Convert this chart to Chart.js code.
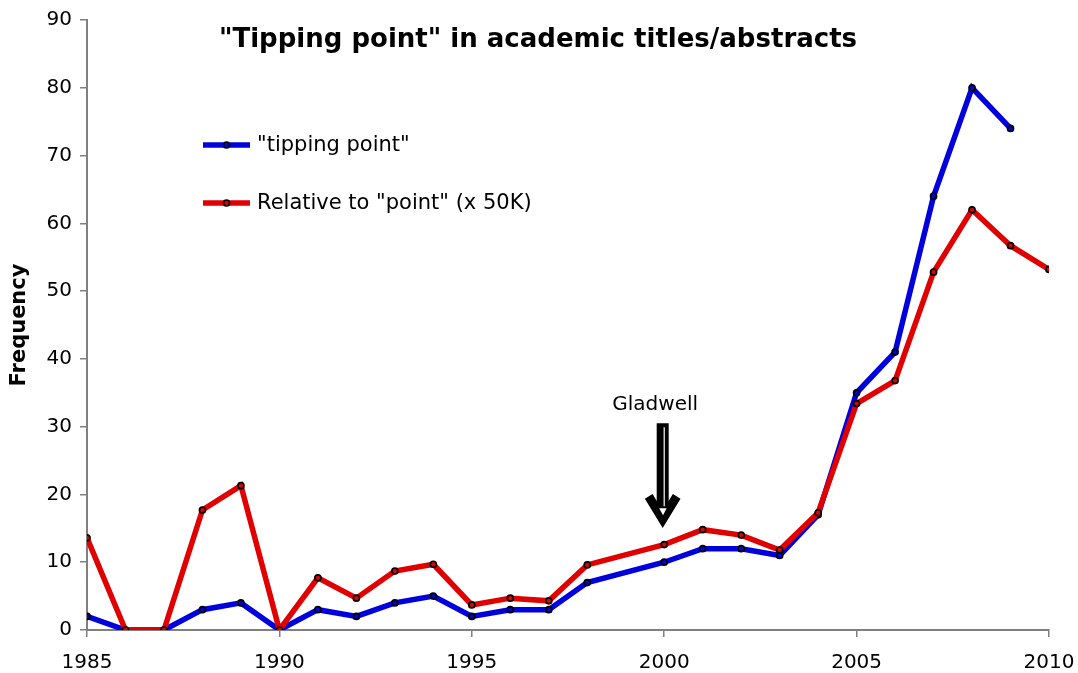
<!DOCTYPE html>
<html>
<head>
<meta charset="utf-8">
<title>Tipping point frequency</title>
<script src="https://cdn.jsdelivr.net/npm/chart.js@4/dist/chart.umd.min.js"></script>
<style>
  html, body { margin: 0; padding: 0; background: #ffffff; }
  #wrap { width: 1078px; height: 673px; }
</style>
</head>
<body>
<div id="wrap"><canvas id="c" width="1078" height="673"></canvas></div>
<script>
// Publication years (no 1999 observation)
const years = [1985, 1986, 1987, 1988, 1989, 1990, 1991, 1992, 1993, 1994, 1995,
               1996, 1997, 1998, 2000, 2001, 2002, 2003, 2004, 2005, 2006, 2007,
               2008, 2009, 2010];

// Raw count of "tipping point" (no 2010 value yet)
const tippingPoint = [2, 0, 0, 3, 4, 0, 3, 2, 4, 5, 2,
                      3, 3, 7, 10, 12, 12, 11, 17, 35, 41, 64,
                      80, 74, null];

// Frequency relative to "point", scaled by 50K
const relativeToPoint = [13.6, 0, 0, 17.7, 21.3, 0, 7.7, 4.7, 8.7, 9.7, 3.7,
                         4.7, 4.3, 9.6, 12.6, 14.8, 14.0, 11.8, 17.3, 33.4, 36.8, 52.8,
                         62.0, 56.7, 53.2];

const xTicks = [1985, 1990, 1995, 2000, 2005, 2010];
const yTicks = [0, 10, 20, 30, 40, 50, 60, 70, 80, 90];

const seriesNames = ['"tipping point"', 'Relative to "point" (x 50K)'];
const chartTitle = '"Tipping point" in academic titles/abstracts';
const yTitle = 'Frequency';
const noteLabel = 'Gladwell';
const noteYear = 2000;

const FONT = "'DejaVu Sans', Verdana, sans-serif";
const AXIS_GREY = '#808080';
const BLUE = '#0000dc';
const RED = '#e00000';

function toPoints(values) {
  const pts = [];
  years.forEach((yr, i) => {
    if (values[i] !== null && values[i] !== undefined) pts.push({ x: yr, y: values[i] });
  });
  return pts;
}

// Title, inline legend and the "Gladwell" arrow
const overlay = {
  id: 'overlay',
  afterDatasetsDraw(chart) {
    const ctx = chart.ctx;
    const xs = chart.scales.x;
    const ys = chart.scales.y;
    ctx.save();

    // title
    ctx.fillStyle = '#000';
    ctx.font = 'bold 26px ' + FONT;
    ctx.textAlign = 'center';
    ctx.textBaseline = 'middle';
    ctx.fillText(chartTitle, 538, 40);

    // legend
    ctx.font = '21px ' + FONT;
    ctx.textAlign = 'left';
    const rows = [145, 203];
    chart.data.datasets.forEach((ds, i) => {
      const y = rows[i];
      ctx.strokeStyle = ds.borderColor;
      ctx.lineWidth = 5.5;
      ctx.beginPath();
      ctx.moveTo(203, y);
      ctx.lineTo(250, y);
      ctx.stroke();
      ctx.beginPath();
      ctx.arc(226.5, y, 3, 0, Math.PI * 2);
      ctx.fillStyle = ds.backgroundColor;
      ctx.fill();
      ctx.lineWidth = 1.7;
      ctx.strokeStyle = '#000';
      ctx.stroke();
      ctx.fillStyle = '#000';
      ctx.fillText(ds.label, 257, y + 1);
    });

    // annotation arrow: thick shaft plus a heavy chevron head
    const cx = xs.getPixelForValue(noteYear) - 1.5;
    const top = ys.getPixelForValue(30.5);
    const tip = ys.getPixelForValue(15.3);
    ctx.strokeStyle = '#000';
    ctx.lineCap = 'butt';
    ctx.lineJoin = 'miter';
    ctx.lineWidth = 12;
    ctx.beginPath();
    ctx.moveTo(cx, top);
    ctx.lineTo(cx, tip - 10);
    ctx.stroke();
    ctx.lineWidth = 9;
    ctx.beginPath();
    ctx.moveTo(cx - 14, tip - 30);
    ctx.lineTo(cx, tip - 7);
    ctx.lineTo(cx + 14, tip - 30);
    ctx.stroke();
    ctx.strokeStyle = '#ffffff';
    ctx.lineWidth = 1.2;
    ctx.beginPath();
    ctx.moveTo(cx + 1.5, top + 4);
    ctx.lineTo(cx + 1.5, tip - 20);
    ctx.stroke();
    ctx.fillStyle = '#ffffff';
    ctx.beginPath();
    ctx.moveTo(cx - 3.5, tip - 18);
    ctx.lineTo(cx + 4, tip - 18);
    ctx.lineTo(cx + 0.3, tip - 11);
    ctx.closePath();
    ctx.fill();

    ctx.fillStyle = '#000';
    ctx.font = '20px ' + FONT;
    ctx.textAlign = 'center';
    ctx.textBaseline = 'middle';
    ctx.fillText(noteLabel, cx - 7.5, ys.getPixelForValue(33.2));

    ctx.restore();
  }
};

new Chart(document.getElementById('c'), {
  type: 'line',
  data: {
    datasets: [
      {
        label: seriesNames[0],
        data: toPoints(tippingPoint),
        borderColor: BLUE,
        backgroundColor: BLUE,
        borderWidth: 5.5,
        pointRadius: 3,
        pointBorderWidth: 1.7,
        pointBorderColor: '#000',
        pointBackgroundColor: BLUE,
        tension: 0,
        order: 2
      },
      {
        label: seriesNames[1],
        data: toPoints(relativeToPoint),
        borderColor: RED,
        backgroundColor: RED,
        borderWidth: 5.5,
        pointRadius: 3,
        pointBorderWidth: 1.7,
        pointBorderColor: '#000',
        pointBackgroundColor: RED,
        tension: 0,
        order: 1
      }
    ]
  },
  options: {
    responsive: false,
    animation: false,
    devicePixelRatio: 1,
    layout: { padding: { top: 20, right: 29, left: 0, bottom: 0 } },
    plugins: {
      legend: { display: false },
      tooltip: { enabled: false },
      title: { display: false }
    },
    scales: {
      x: {
        type: 'linear',
        min: xTicks[0],
        max: xTicks[xTicks.length - 1],
        afterBuildTicks(scale) { scale.ticks = xTicks.map(v => ({ value: v })); },
        afterFit(scale) {
          scale.height = 43;
          scale.paddingLeft = 0;
          scale.paddingRight = 0;
        },
        ticks: {
          font: { family: FONT, size: 20 },
          color: '#000',
          padding: 14,
          maxRotation: 0,
          callback: v => String(v)
        },
        grid: { display: true, drawOnChartArea: false, drawTicks: true, tickLength: 7, color: AXIS_GREY, lineWidth: 1.5 },
        border: { display: true, color: AXIS_GREY, width: 2 }
      },
      y: {
        type: 'linear',
        min: yTicks[0],
        max: yTicks[yTicks.length - 1],
        afterBuildTicks(scale) { scale.ticks = yTicks.map(v => ({ value: v })); },
        afterFit(scale) {
          scale.width = 87;
          scale.paddingTop = 0;
          scale.paddingBottom = 0;
        },
        ticks: {
          font: { family: FONT, size: 20 },
          color: '#000',
          padding: 8
        },
        title: {
          display: true,
          text: yTitle,
          color: '#000',
          font: { family: FONT, size: 21, weight: 'bold' },
          padding: { top: 7, bottom: 0 }
        },
        grid: { display: true, drawOnChartArea: false, drawTicks: true, tickLength: 7, color: AXIS_GREY, lineWidth: 1.5 },
        border: { display: true, color: AXIS_GREY, width: 2 }
      }
    }
  },
  plugins: [overlay]
});
</script>
</body>
</html>
